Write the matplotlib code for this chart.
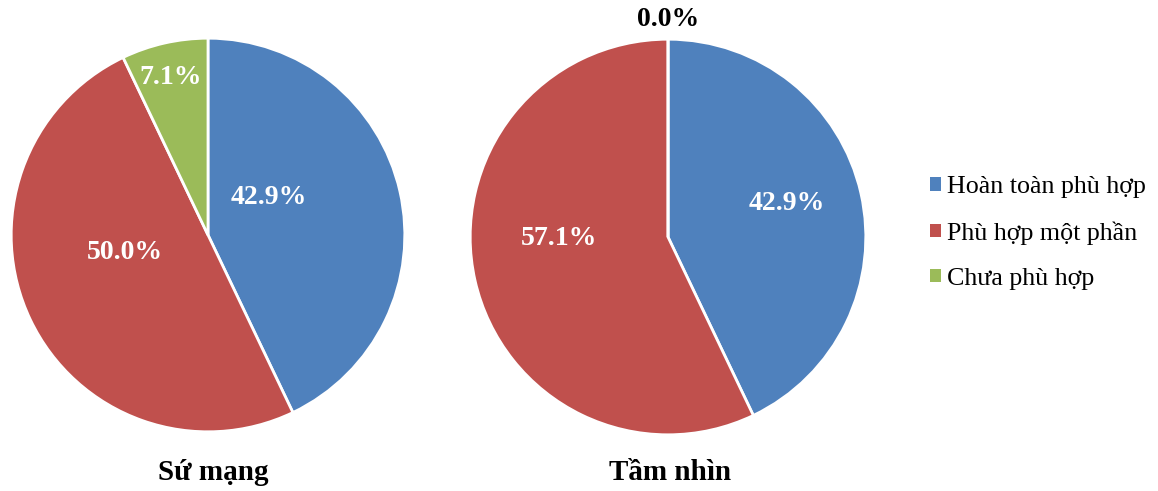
import matplotlib
matplotlib.use("Agg")
import matplotlib.pyplot as plt
from matplotlib.patches import Patch

# Data
categories = ["Hoàn toàn phù hợp", "Phù hợp một phần", "Chưa phù hợp"]
su_mang = [42.9, 50.0, 7.1]
tam_nhin = [42.9, 57.1, 0.0]
titles = ["Sứ mạng", "Tầm nhìn"]

colors = ["#4F81BD", "#C0504D", "#9BBB59"]
FONT = "Liberation Serif"

W, H = 1158, 491
fig = plt.figure(figsize=(W / 100, H / 100), dpi=100)

def pie_axes(cx, cy, r):
    ax = fig.add_axes([(cx - r) / W, (H - cy - r) / H, 2 * r / W, 2 * r / H])
    ax.set_xlim(-1, 1)
    ax.set_ylim(-1, 1)
    ax.set_aspect("equal")
    ax.axis("off")
    return ax

# label positions in units of pie radius (x, y, colour)
label_pos = [
    [(0.31, 0.19, "white"), (-0.424, -0.09, "white"), (-0.188, 0.80, "white")],
    [(0.60, 0.17, "white"), (-0.55, -0.01, "white"), (0.0, 1.10, "black")],
]
centers = [(208, 235, 197), (668, 237, 198)]

for i, vals in enumerate([su_mang, tam_nhin]):
    cx, cy, r = centers[i]
    ax = pie_axes(cx, cy, r)
    ax.pie(vals, colors=colors, startangle=90, counterclock=False, radius=1,
           wedgeprops=dict(edgecolor="white", linewidth=2))
    ax.set_xlim(-1.001, 1.001)
    ax.set_ylim(-1.001, 1.001)
    for v, (lx, ly, c) in zip(vals, label_pos[i]):
        ax.text(lx, ly, f"{v:.1f}%", ha="center", va="center", color=c,
                fontsize=20, fontweight="bold", family=FONT, clip_on=False)
    fig.text(cx / W + (5 / W if i == 0 else 2 / W), 1 - 473 / H, titles[i],
             ha="center", va="center", fontsize=21, fontweight="bold", family=FONT)

handles = [Patch(facecolor=c, edgecolor="none") for c in colors]
fig.legend(handles, categories, loc="center left",
           bbox_to_anchor=(930 / W, 1 - 233 / H), frameon=False,
           prop=dict(family=FONT, size=18.7), handlelength=0.42, handleheight=0.42,
           handletextpad=0.25, labelspacing=0.88, borderpad=0, borderaxespad=0)

fig.savefig("out.png", dpi=100, facecolor="white")
